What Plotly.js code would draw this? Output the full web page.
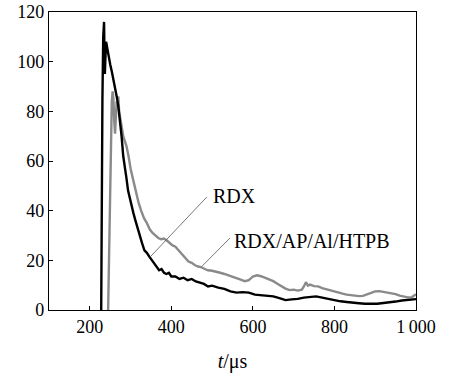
<!DOCTYPE html>
<html>
<head>
<meta charset="utf-8">
<script src="https://cdn.plot.ly/plotly-3.0.1.min.js"></script>
<style>
html,body{margin:0;padding:0;background:#fff;}
#chart{width:449px;height:382px;}
#chart svg text{font-family:"Liberation Serif","DejaVu Serif",serif !important;}
</style>
</head>
<body>
<div id="chart"></div>
<script>
// RDX (black)
var rdxT = [228,229,231,233,235,236,237,238,240,242,244,247,250,254,258,262,266,270,274,278,282,286,290,294,298,302,307,312,317,322,328,334,340,346,352,358,364,370,376,382,388,394,400,410,420,430,440,450,460,470,480,490,500,515,530,545,560,575,590,605,620,635,650,665,680,695,710,725,740,755,770,785,800,815,830,845,860,875,890,905,920,935,950,965,980,1000];
var rdxP = [0,40,85,110,116,104,95,100,108,106,104,101,99,96,93,90,86,82,77,70,62,58,53,48,45,42,39,36,33,30,27,24,23,21.5,20,18.5,17.5,16,16.5,15,14.5,15,13.5,13.5,12.5,13,12,12.5,11.5,11,10.5,9.5,9.8,9,8.5,7.5,7,7.2,7,6.2,6,5.8,5.5,4.8,4,4.3,4.5,5,5.3,5.5,5,4.5,3.8,3.5,3.2,2.8,2.7,2.5,2.4,2.5,2.8,3,3.4,3.8,4.1,4.4];
// RDX/AP/Al/HTPB (gray)
var mixT = [245,248,251,254,256,258,260,262,264,266,268,270,272,275,278,282,286,290,295,300,307,314,320,326,333,340,347,354,361,368,375,382,389,396,403,410,418,426,434,442,450,458,466,474,482,490,500,510,520,530,540,550,560,570,580,590,600,610,620,630,640,650,660,670,680,690,700,710,720,725,730,735,740,750,760,770,780,790,800,810,820,830,840,850,860,870,880,890,900,910,920,930,940,950,960,970,980,990,1000];
var mixP = [0,30,65,84,88,85,76,71,78,84,82,86,80,76,74,70,68,66,62,57,52,47,43,40,37,35,32.5,31,30,29,28.5,28.8,28,27,26,25.5,24,22.5,21,19.5,19,18,17.5,17.2,16.5,16,15.8,15.5,15,14.5,14,13.5,13,12.2,11.6,12,13.5,14,13.6,13,12.4,11.6,10.6,9.6,8.6,8,8.2,7.8,8.2,9.5,11.2,9.8,10.2,9.6,9.5,8.8,8.3,8,7.4,7,6.6,6.2,5.9,5.8,5.6,5.7,6.3,7,7.5,7.6,7.3,7,6.8,6.4,5.8,5.3,5.1,5.2,6.3];

var xTickVals = [200,400,600,800,1000];
var xTickText = ['200','400','600','800','1\u2009000'];
var yTickVals = [0,20,40,60,80,100,120];

var labelRDX = {text:'RDX', curve:[347.7,21.3], end:[487,45.5], pos:[497,46]};
var labelMix = {text:'RDX/AP/Al/HTPB', curve:[474,17.4], end:[543.8,29], pos:[549,27.8]};

var FONT = 'Liberation Serif, DejaVu Serif, serif';

var traces = [
  {x: mixT, y: mixP, type:'scatter', mode:'lines', line:{color:'#8a8a8a', width:2.4}, name:'RDX/AP/Al/HTPB'},
  {x: rdxT, y: rdxP, type:'scatter', mode:'lines', line:{color:'#000000', width:2.4}, name:'RDX'}
];

var shapes = [labelRDX, labelMix].map(function(l){
  return {type:'line', xref:'x', yref:'y', x0:l.curve[0], y0:l.curve[1], x1:l.end[0], y1:l.end[1], line:{color:'#555', width:0.8}};
});
var annotations = [labelRDX, labelMix].map(function(l){
  return {xref:'x', yref:'y', x:l.pos[0], y:l.pos[1], text:l.text, showarrow:false, xanchor:'left', yanchor:'middle', font:{family:FONT, size:20, color:'#000'}};
});

var layout = {
  width:449, height:382,
  margin:{l:49, r:33, t:12, b:72},
  paper_bgcolor:'#fff', plot_bgcolor:'#fff',
  showlegend:false,
  font:{family:FONT, size:18, color:'#000'},
  xaxis:{range:[100,1000], tickvals:xTickVals, ticktext:xTickText, ticks:'inside', ticklen:4, tickwidth:1, tickcolor:'#000',
         showline:true, linecolor:'#000', linewidth:1.2, mirror:true, showgrid:false, zeroline:false,
         tickfont:{family:FONT, size:18}, title:{text:'<i>t</i>/μs', font:{family:FONT, size:20}, standoff:18}},
  yaxis:{range:[0,120], tickvals:yTickVals, ticks:'inside', ticklen:4, tickwidth:1, tickcolor:'#000',
         showline:true, linecolor:'#000', linewidth:1.2, mirror:true, showgrid:false, zeroline:false,
         tickfont:{family:FONT, size:18}},
  shapes:shapes,
  annotations:annotations
};
Plotly.newPlot('chart', traces, layout, {displayModeBar:false, staticPlot:true});
</script>
</body>
</html>
